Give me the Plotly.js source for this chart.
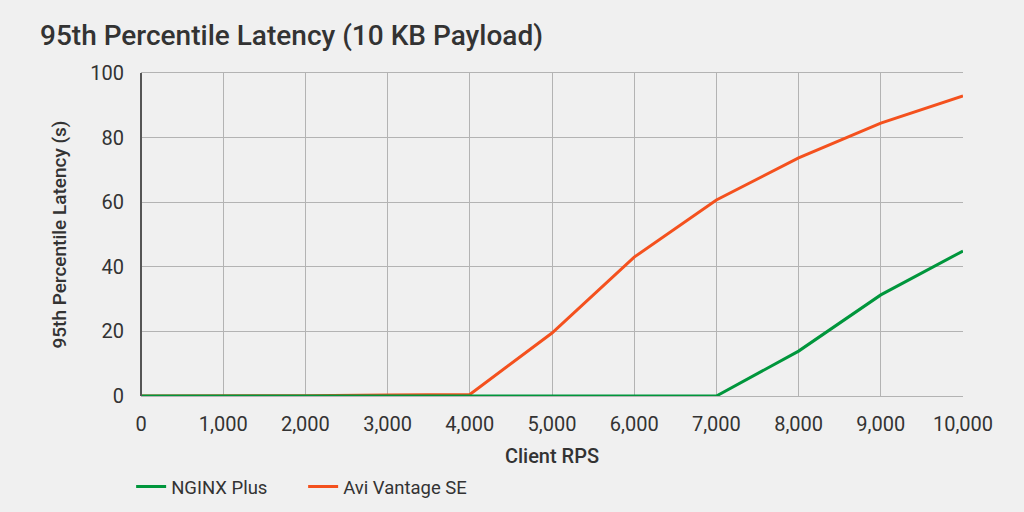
<!DOCTYPE html>
<html>
<head>
<meta charset="utf-8">
<script src="https://cdn.plot.ly/plotly-3.0.1.min.js"></script>
<style>
  html, body { margin: 0; padding: 0; background: #f0f0f0; }
  #chart { width: 1024px; height: 512px; }
</style>
</head>
<body>
<div id="chart"></div>
<script>
var rps = [0, 1000, 2000, 3000, 4000, 5000, 6000, 7000, 8000, 9000, 10000];
var nginxLatency = [0, 0, 0, 0, 0, 0, 0, 0, 13.9, 31.3, 44.9];
var aviLatency = [0, 0, 0.1, 0.3, 0.5, 19.5, 43, 60.7, 73.7, 84.5, 92.9];

// avi first so the green line sits on top where they overlap
var avi = {
  x: rps,
  y: aviLatency,
  name: 'Avi Vantage SE',
  type: 'scatter',
  mode: 'lines',
  line: { color: '#f4511e', width: 3 }
};

var nginx = {
  x: rps,
  y: nginxLatency,
  name: 'NGINX Plus',
  type: 'scatter',
  mode: 'lines',
  line: { color: '#00963c', width: 3 }
};

var layout = {
  width: 1024,
  height: 512,
  paper_bgcolor: '#f0f0f0',
  plot_bgcolor: '#f0f0f0',
  font: { family: 'Roboto, sans-serif', color: '#333333', size: 20 },
  margin: { l: 141, r: 61, t: 73, b: 116 },
  title: {
    text: '95th Percentile Latency (10 KB Payload)',
    font: { size: 28, color: '#333333', weight: 500 },
    xref: 'container', x: 40 / 1024, xanchor: 'left',
    yref: 'container', y: 1 - 35 / 512, yanchor: 'middle'
  },
  xaxis: {
    range: [0, 10000],
    tickvals: rps,
    tickformat: ',d',
    gridcolor: '#b3b3b3',
    showline: true,
    linecolor: '#b3b3b3',
    mirror: true,
    zeroline: false,
    ticks: '',
    ticklabelstandoff: 10,
    automargin: false,
    title: { text: 'Client RPS', font: { size: 20, weight: 500 }, standoff: 14 }
  },
  yaxis: {
    range: [0, 100],
    dtick: 20,
    gridcolor: '#b3b3b3',
    showline: false,
    zeroline: false,
    ticks: '',
    ticklabelstandoff: 16,
    automargin: false,
    title: { text: '95th Percentile Latency (s)', font: { size: 19, weight: 500 }, standoff: 18 }
  },
  shapes: [
    { type: 'line', xref: 'paper', yref: 'paper', x0: 0, x1: 0, y0: 0, y1: 1,
      line: { color: '#555555', width: 2 } }
  ],
  showlegend: true,
  legend: {
    orientation: 'h',
    traceorder: 'reversed',
    entrywidth: 127,
    entrywidthmode: 'pixels',
    x: -0.012, xanchor: 'left',
    yref: 'container', y: (512 - 487) / 512, yanchor: 'middle',
    font: { size: 18.5 },
    bgcolor: 'rgba(0,0,0,0)'
  }
};

Plotly.newPlot('chart', [avi, nginx], layout, { displayModeBar: false, staticPlot: true });
</script>
</body>
</html>
